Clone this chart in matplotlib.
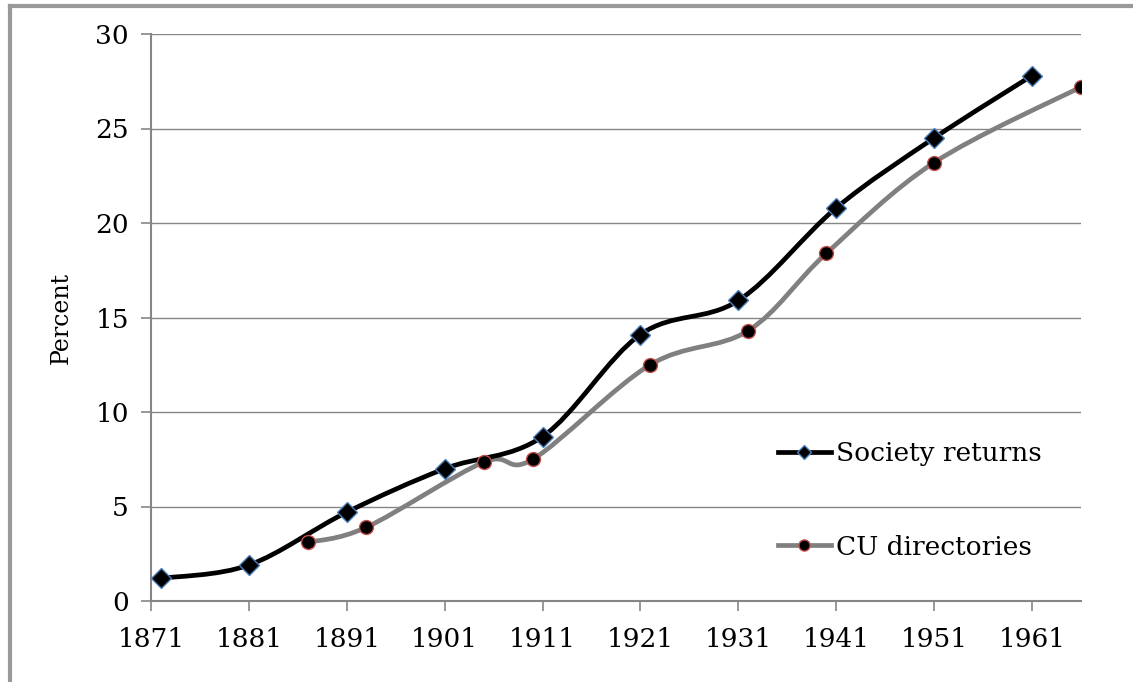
import numpy as np
import matplotlib
matplotlib.use("Agg")
import matplotlib.pyplot as plt
from matplotlib.path import Path
from matplotlib.patches import PathPatch
from matplotlib.lines import Line2D

# values
society_years = [1872, 1881, 1891, 1901, 1911, 1921, 1931, 1941, 1951, 1961]
society_pct = [1.2, 1.9, 4.7, 7.0, 8.7, 14.1, 15.9, 20.8, 24.5, 27.8]

cu_years = [1887, 1893, 1905, 1910, 1922, 1932, 1940, 1951, 1966]
cu_pct = [3.1, 3.9, 7.35, 7.5, 12.5, 14.3, 18.4, 23.2, 27.2]

year_ticks = [1871, 1881, 1891, 1901, 1911, 1921, 1931, 1941, 1951, 1961]
pct_ticks = [0, 5, 10, 15, 20, 25, 30]


def smooth_path(xs, ys):
    # Excel-like smoothed line: cubic bezier, catmull-rom style control points
    pts = np.column_stack([xs, ys]).astype(float)
    n = len(pts)
    verts = [pts[0]]
    codes = [Path.MOVETO]
    for i in range(n - 1):
        p0 = pts[i - 1] if i > 0 else pts[i]
        p1 = pts[i]
        p2 = pts[i + 1]
        p3 = pts[i + 2] if i + 2 < n else pts[i + 1]
        c1 = p1 + (p2 - p0) / 6.0
        c2 = p2 - (p3 - p1) / 6.0
        verts += [c1, c2, p2]
        codes += [Path.CURVE4] * 3
    return Path(verts, codes)


plt.rcParams["font.family"] = "DejaVu Serif"
grey = "#868686"

fig = plt.figure(figsize=(11.33, 6.82), dpi=100)
ax = fig.add_axes([151 / 1133, 1 - 601 / 682, 930 / 1133, 567 / 682])

ax.add_patch(PathPatch(smooth_path(cu_years, cu_pct), fill=False, edgecolor="#808080",
                       lw=3.4, zorder=3, capstyle="round", joinstyle="round"))
ax.add_patch(PathPatch(smooth_path(society_years, society_pct), fill=False, edgecolor="black",
                       lw=3.4, zorder=4, capstyle="round", joinstyle="round"))
ax.plot(cu_years, cu_pct, ls="none", marker="o", ms=10, mfc="black", mec="#c0504d", mew=1, zorder=5)
ax.plot(society_years, society_pct, ls="none", marker="D", ms=10.5, mfc="black", mec="#4a7ebb", mew=1, zorder=6)

ax.set_xlim(1871, 1966)
ax.set_ylim(0, 30)
ax.set_xticks(year_ticks)
ax.set_yticks(pct_ticks)
ax.tick_params(axis="both", labelsize=19, color=grey, length=7, width=1.2)
ax.tick_params(axis="x", pad=12)
ax.tick_params(axis="y", pad=9)
ax.grid(axis="y", color=grey, lw=1.0)
ax.set_axisbelow(True)
for side in ["top", "right"]:
    ax.spines[side].set_visible(False)
for side in ["left", "bottom"]:
    ax.spines[side].set_color(grey)
    ax.spines[side].set_linewidth(1.5)
ax.set_ylabel("Percent", fontsize=17, labelpad=16)

handles = [
    Line2D([], [], color="black", lw=3.4, marker="D", ms=7, mfc="black", mec="#4a7ebb"),
    Line2D([], [], color="#808080", lw=3.4, marker="o", ms=8, mfc="black", mec="#c0504d"),
]
ax.legend(handles, ["Society returns", "CU directories"], loc="upper left",
          bbox_to_anchor=(0.674, 0.282), frameon=False, fontsize=19, borderpad=0,
          borderaxespad=0, labelspacing=2.6, handlelength=2.0, handletextpad=0.2)

# frame lines at left and top of the picture
fig.add_artist(Line2D([10 / 1133, 10 / 1133], [0, 1 - 6 / 682], color="#999999", lw=3,
                      transform=fig.transFigure))
fig.add_artist(Line2D([10 / 1133, 1], [1 - 6 / 682, 1 - 6 / 682], color="#999999", lw=3,
                      transform=fig.transFigure))

fig.savefig("out.png", dpi=100)
